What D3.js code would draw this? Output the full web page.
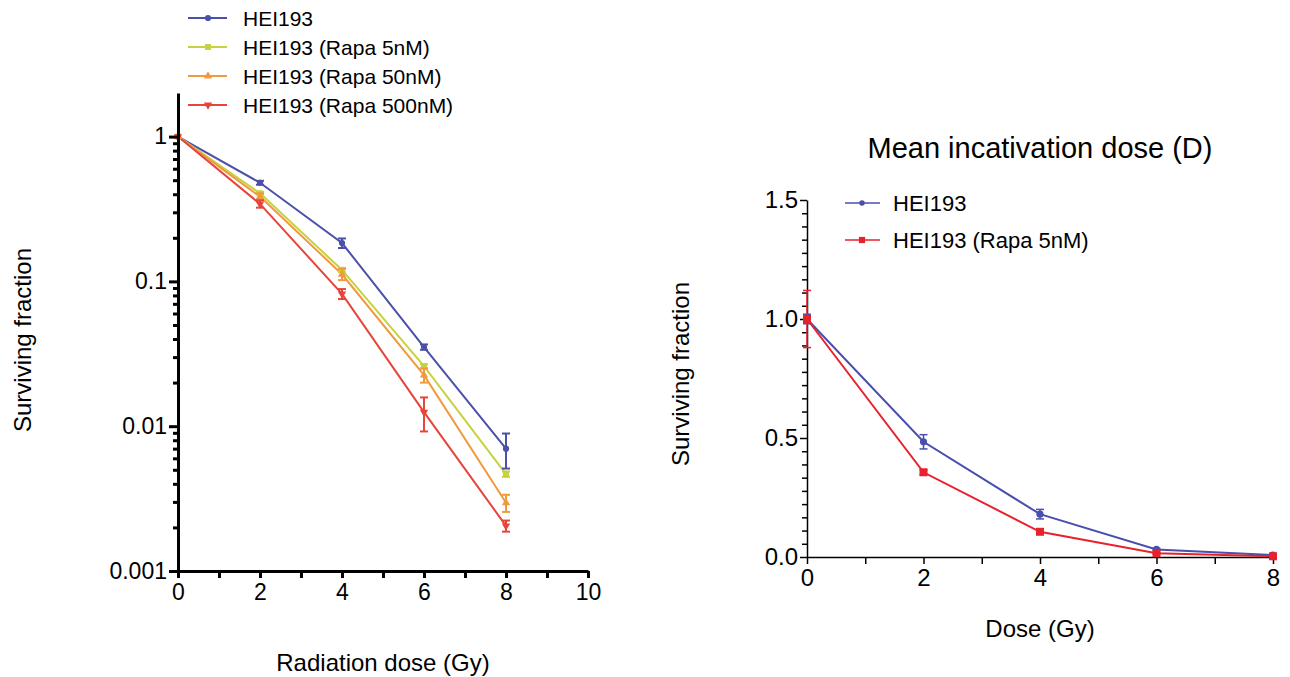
<!DOCTYPE html>
<html>
<head>
<meta charset="utf-8">
<script src="https://cdn.jsdelivr.net/npm/d3@7"></script>
<style>
  html, body { margin: 0; padding: 0; background: #fff; }
  svg { display: block; }
  text { font-family: "Liberation Sans", Arial, Helvetica, sans-serif; fill: #000; }
  .narrow text, text.narrow { font-family: "Liberation Sans Narrow", "Arial Narrow", "Liberation Sans", Arial, sans-serif; }
</style>
</head>
<body>
<svg id="chart" width="1290" height="677"></svg>
<script>
// ---------------- data ----------------
const doses = [0, 2, 4, 6, 8];

// left panel (log scale)
const leftNames = ["HEI193", "HEI193 (Rapa 5nM)", "HEI193 (Rapa 50nM)", "HEI193 (Rapa 500nM)"];
const leftHEI193 = [1, 0.48, 0.184, 0.0352, 0.0070];
const leftHEI193Err = [0, 0.015, 0.014, 0.0015, 0.0019];
const leftRapa5 = [1, 0.406, 0.12, 0.026, 0.00467];
const leftRapa5Err = [0, 0.008, 0.004, 0.0008, 0.0002];
const leftRapa50 = [1, 0.385, 0.112, 0.0225, 0.00296];
const leftRapa50Err = [0, 0.02, 0.01, 0.0025, 0.0004];
const leftRapa500 = [1, 0.343, 0.082, 0.0125, 0.00205];
const leftRapa500Err = [0, 0.02, 0.0065, 0.0033, 0.00018];
const leftXTicks = [0, 2, 4, 6, 8, 10];
const leftYTicks = [0.001, 0.01, 0.1, 1];
const leftYTickLabels = ["0.001", "0.01", "0.1", "1"];

// right panel (linear scale)
const rightTitle = "Mean incativation dose (D)";
const rightNames = ["HEI193", "HEI193 (Rapa 5nM)"];
const rightHEI193 = [1.0, 0.484, 0.18, 0.032, 0.008];
const rightHEI193Err = [0.02, 0.03, 0.02, 0.004, 0.002];
const rightRapa5 = [1.0, 0.356, 0.106, 0.016, 0.003];
const rightRapa5Err = [0.12, 0.01, 0.005, 0.003, 0.001];
const rightXTicks = [0, 2, 4, 6, 8];
const rightYTicks = [0, 0.5, 1.0, 1.5];

// ---------------- drawing ----------------
const svg = d3.select("#chart");

function symbolPath(type, size) {
  return d3.symbol().type(type).size(size)();
}

// ===== LEFT PANEL =====
const lx = d3.scaleLinear().domain([0, 10]).range([178, 588]);
const ly = d3.scaleLog().domain([0.001, 2]).range([571, 93]);

const leftSeries = [
  { name: leftNames[0], vals: leftHEI193, err: leftHEI193Err, color: "#4b51a8", sym: d3.symbolCircle, size: 30 },
  { name: leftNames[1], vals: leftRapa5, err: leftRapa5Err, color: "#c6d23e", sym: d3.symbolSquare, size: 36 },
  { name: leftNames[2], vals: leftRapa50, err: leftRapa50Err, color: "#f09a3e", sym: d3.symbolTriangle, size: 30 },
  { name: leftNames[3], vals: leftRapa500, err: leftRapa500Err, color: "#e5453b", sym: d3.symbolTriangle, size: 30, flip: true }
];

const gL = svg.append("g");

const lineL = d3.line().x((d, i) => lx(doses[i])).y(d => ly(d));
leftSeries.forEach(s => {
  gL.append("path").attr("d", lineL(s.vals)).attr("fill", "none")
    .attr("stroke", s.color).attr("stroke-width", 2);
});
leftSeries.forEach(s => {
  const g = gL.append("g");
  s.vals.forEach((v, i) => {
    const e = s.err[i];
    if (e > 0) {
      const x = lx(doses[i]);
      const y1 = ly(v + e), y2 = ly(v - e);
      g.append("line").attr("x1", x).attr("x2", x).attr("y1", y1).attr("y2", y2)
        .attr("stroke", s.color).attr("stroke-width", 2);
      [y1, y2].forEach(yy => g.append("line").attr("x1", x - 4).attr("x2", x + 4)
        .attr("y1", yy).attr("y2", yy).attr("stroke", s.color).attr("stroke-width", 2));
    }
    g.append("path").attr("d", symbolPath(s.sym, s.size))
      .attr("transform", `translate(${lx(doses[i])},${ly(v)})${s.flip ? " rotate(180)" : ""}`)
      .attr("fill", s.color);
  });
});

const xAxisL = d3.axisBottom(lx).tickValues(d3.range(0, 11, 1)).tickSize(7).tickSizeOuter(0).tickPadding(6)
  .tickFormat(d => leftXTicks.includes(d) ? d : "");
const gxL = gL.append("g").attr("transform", "translate(0,571)").call(xAxisL);
gxL.selectAll("text").style("font-size", "23px");

const minorL = [];
[0.001, 0.01, 0.1, 1].forEach(dec => { for (let k = 2; k <= 9; k++) { const v = dec * k; if (v < 2) minorL.push(v); } });
const yMinorL = d3.axisLeft(ly).tickValues(minorL).tickSize(5).tickSizeOuter(0).tickFormat("");
gL.append("g").attr("transform", "translate(178,0)").call(yMinorL).select(".domain").remove();

const yAxisL = d3.axisLeft(ly).tickValues(leftYTicks).tickSize(9).tickSizeOuter(0).tickPadding(2)
  .tickFormat((d, i) => leftYTickLabels[i]);
const gyL = gL.append("g").attr("transform", "translate(178,0)").call(yAxisL);
gyL.selectAll("text").style("font-size", "23px");

[gxL, gyL].forEach(g => {
  g.select(".domain").attr("stroke", "#000").attr("stroke-width", 3);
});
gL.selectAll(".tick line").attr("stroke", "#000").attr("stroke-width", 3);

gL.append("text").attr("x", lx(5)).attr("y", 671).attr("text-anchor", "middle")
  .style("font-size", "24px").text("Radiation dose (Gy)");
gL.append("text").attr("transform", "translate(31,340) rotate(-90)").attr("text-anchor", "middle")
  .style("font-size", "24px").text("Surviving fraction");

const legL = gL.append("g");
leftSeries.forEach((s, i) => {
  const y = 18 + i * 29;
  legL.append("line").attr("x1", 188).attr("x2", 227).attr("y1", y).attr("y2", y)
    .attr("stroke", s.color).attr("stroke-width", 2);
  legL.append("path").attr("d", symbolPath(s.sym, s.size))
    .attr("transform", `translate(208,${y})${s.flip ? " rotate(180)" : ""}`).attr("fill", s.color);
  legL.append("text").attr("x", 243).attr("y", y).attr("dy", "0.36em")
    .style("font-size", "21px").text(s.name);
});

// ===== RIGHT PANEL =====
const rx = d3.scaleLinear().domain([0, 8]).range([807, 1273]);
const ry = d3.scaleLinear().domain([0, 1.5]).range([557, 200]);

const rightSeries = [
  { name: rightNames[0], vals: rightHEI193, err: rightHEI193Err, color: "#4a4fae", sym: d3.symbolCircle, size: 40 },
  { name: rightNames[1], vals: rightRapa5, err: rightRapa5Err, color: "#e8222d", sym: d3.symbolSquare, size: 64 }
];

const gR = svg.append("g");

const xAxisR = d3.axisBottom(rx).tickValues(d3.range(0, 9, 1)).tickSize(7).tickSizeOuter(0).tickPadding(5)
  .tickFormat(d => rightXTicks.includes(d) ? d : "");
const gxR = gR.append("g").attr("class", "narrow").attr("transform", "translate(0,557)").call(xAxisR);
gxR.selectAll("text").style("font-size", "24px");

const minorR = d3.range(1, 27).map(k => k * 1.5 / 27).filter(v => ![0.5, 1.0].some(m => Math.abs(v - m) < 1e-6));
const yMinorR = d3.axisLeft(ry).tickValues(minorR).tickSize(5).tickSizeOuter(0).tickFormat("");
gR.append("g").attr("transform", "translate(807,0)").call(yMinorR).select(".domain").remove();

const yAxisR = d3.axisLeft(ry).tickValues(rightYTicks).tickSize(7).tickSizeOuter(0).tickPadding(2)
  .tickFormat(d3.format(".1f"));
const gyR = gR.append("g").attr("class", "narrow").attr("transform", "translate(807,0)").call(yAxisR);
gyR.selectAll("text").style("font-size", "24px");

[gxR, gyR].forEach(g => g.select(".domain").attr("stroke", "#000").attr("stroke-width", 1.5));
gR.selectAll(".tick line").attr("stroke", "#000").attr("stroke-width", 1.5);

const lineR = d3.line().x((d, i) => rx(doses[i])).y(d => ry(d));
rightSeries.forEach(s => {
  gR.append("path").attr("d", lineR(s.vals)).attr("fill", "none")
    .attr("stroke", s.color).attr("stroke-width", 2);
});
rightSeries.forEach(s => {
  const g = gR.append("g");
  s.vals.forEach((v, i) => {
    const e = s.err[i];
    const x = rx(doses[i]);
    if (e > 0) {
      const y1 = ry(v + e), y2 = ry(Math.max(0, v - e));
      g.append("line").attr("x1", x).attr("x2", x).attr("y1", y1).attr("y2", y2)
        .attr("stroke", s.color).attr("stroke-width", 1.5);
      [y1, y2].forEach(yy => g.append("line").attr("x1", x - 4).attr("x2", x + 4)
        .attr("y1", yy).attr("y2", yy).attr("stroke", s.color).attr("stroke-width", 1.5));
    }
    g.append("path").attr("d", symbolPath(s.sym, s.size))
      .attr("transform", `translate(${x},${ry(v)})`).attr("fill", s.color);
  });
});

gR.append("text").attr("x", 1040).attr("y", 158).attr("text-anchor", "middle")
  .style("font-size", "29px").text(rightTitle);
gR.append("text").attr("x", rx(4)).attr("y", 637).attr("text-anchor", "middle")
  .style("font-size", "24px").text("Dose (Gy)");
gR.append("text").attr("transform", "translate(689,374) rotate(-90)").attr("text-anchor", "middle")
  .style("font-size", "24px").text("Surviving fraction");

const legR = gR.append("g");
rightSeries.forEach((s, i) => {
  const y = 203 + i * 37;
  legR.append("line").attr("x1", 845).attr("x2", 880).attr("y1", y).attr("y2", y)
    .attr("stroke", s.color).attr("stroke-width", 1.5);
  legR.append("path").attr("d", symbolPath(s.sym, s.size * 0.6))
    .attr("transform", `translate(862,${y})`).attr("fill", s.color);
  legR.append("text").attr("x", 893).attr("y", y).attr("dy", "0.36em")
    .style("font-size", "22px").text(s.name);
});
</script>
</body>
</html>
